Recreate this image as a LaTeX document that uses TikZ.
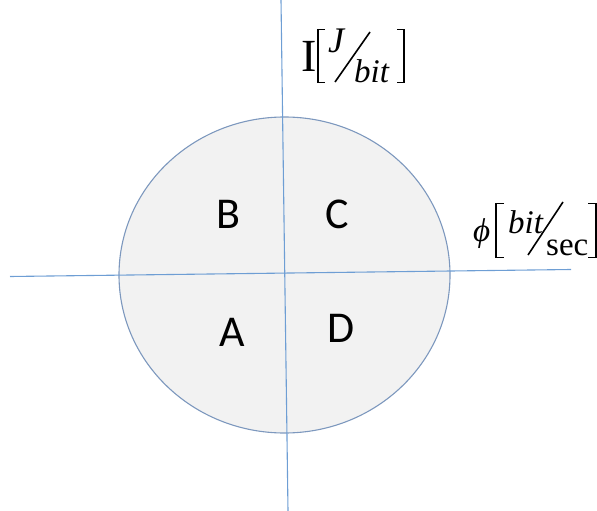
\documentclass[tikz,border=0pt]{standalone}
\usepackage{fontspec}
\setmainfont{Liberation Serif}
\newfontfamily\quadfont{Carlito}
\begin{document}
\begin{tikzpicture}[x=1pt,y=-1pt,
  axis/.style={draw=axisblue,line width=1.1pt},
  quad/.style={font=\quadfont\fontsize{44}{44}\selectfont,inner sep=0pt,anchor=base},
  unit/.style={font=\fontsize{33}{33}\selectfont\itshape,inner sep=0pt,anchor=base west},
  upright/.style={font=\fontsize{33}{33}\selectfont,inner sep=0pt,anchor=base west},
  brk/.style={draw=black,line width=1.3pt},
  slash/.style={draw=black,line width=1.6pt}]
\definecolor{axisblue}{RGB}{110,158,212}
\definecolor{rimblue}{RGB}{125,152,190}
\definecolor{fillgray}{RGB}{242,242,242}
\useasboundingbox (0,0) rectangle (597,511);
% circle
\path[fill=fillgray,draw=rimblue,line width=1.1pt] (284.5,275) ellipse [x radius=165.5,y radius=158];
% axes
\coordinate (vtop) at (281,0);
\coordinate (vbot) at (288,511);
\coordinate (hleft) at (10,276.5);
\coordinate (hright) at (571,269.5);
\draw[axis] (vtop) -- (vbot);
\draw[axis] (hleft) -- (hright);
% quadrant letters
\node[quad] (B) at (228,228) {B};
\node[quad] (C) at (337,228) {C};
\node[quad] (A) at (232,346) {A};
\node[quad] (D) at (341,342) {D};
% I [J / bit]
\node[inner sep=0pt,anchor=base west,font=\fontsize{46}{46}\selectfont] (Ilab) at (301,72) {I};
\draw[brk] (325,29.5) -- (318,29.5) -- (318,82.5) -- (325,82.5);
\node[unit,font=\fontsize{36}{36}\selectfont\itshape] (J) at (328,53) {J};
\draw[slash] (370,32) -- (335,82);
\node[unit] (bit1) at (354,82) {bit};
\draw[brk] (397,29.5) -- (404,29.5) -- (404,82.5) -- (397,82.5);
% phi [bit / sec]
\node[unit] (phi) at (473,241) {ϕ};
\draw[brk] (504,203.5) -- (496,203.5) -- (496,257.5) -- (504,257.5);
\node[unit] (bit2) at (508,233) {bit};
\draw[slash] (563,202) -- (528,255);
\node[upright] (sec) at (546,255) {sec};
\draw[brk] (588,203.5) -- (596,203.5) -- (596,257.5) -- (588,257.5);
\end{tikzpicture}
\end{document}
